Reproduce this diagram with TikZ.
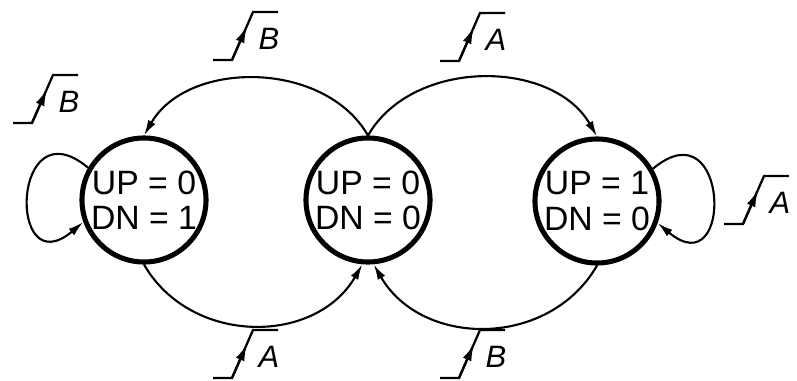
\documentclass[tikz,border=0pt]{standalone}
\usepackage{fontspec}
\setmainfont{Liberation Sans}
\usetikzlibrary{arrows.meta}
\tikzset{
  state/.style={circle, draw=black, line width=3.6pt, minimum size=3.1cm, inner sep=-6pt,
                align=center, font=\fontsize{24}{25}\selectfont},
  trans/.style={-{Latex[length=11pt,width=6pt]}, line width=1.5pt},
  rise/.pic={
    \draw[line width=1.6pt] (0,0) -- (19,0) -- (40,48) -- (65,48);
    \draw[-{Latex[length=12pt,width=6.5pt]}, line width=1.6pt] (19,0) -- (34,34);
    \node[font=\fontsize{22}{24}\selectfont\itshape] (-sig) at (56,21) {#1};
  },
}
\begin{document}
\begin{tikzpicture}[x=0.025cm, y=0.025cm]
\useasboundingbox (0,0) rectangle (797,-381);
\node[state] (dn)   at (144,-200) {UP = 0\\DN = 1};
\node[state] (idle) at (368,-200) {UP = 0\\DN = 0};
\node[state] (up)   at (597,-201) {UP = 1\\DN = 0};

\draw[trans] (idle.north) to[out=120,in=60] (dn.north);
\draw[trans] (idle.north) to[out=60,in=120] (up.north);
\draw[trans] (dn.south) to[out=-60,in=-120,looseness=1.1] (idle.-95);
\draw[trans] (up.south) to[out=-120,in=-60,looseness=1.1] (idle.-85);
\draw[trans] (dn.150) .. controls +(140:100) and +(220:100) .. (dn.200);
\draw[trans] (up.30) .. controls +(40:100) and +(-40:100) .. (up.-20);

\pic (lblIdleDn) at (213,-60)  {rise=B};
\pic (lblIdleUp) at (440,-61)  {rise=A};
\pic (lblDnDn)   at (13,-123)  {rise=B};
\pic (lblUpUp)   at (724,-224) {rise=A};
\pic (lblDnIdle) at (213,-378) {rise=A};
\pic (lblUpIdle) at (440,-378) {rise=B};
\end{tikzpicture}
\end{document}
